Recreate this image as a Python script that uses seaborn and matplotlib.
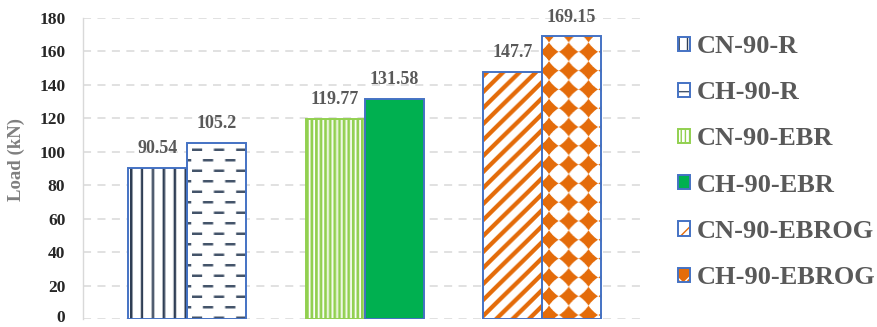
import numpy as np
import pandas as pd
import matplotlib
matplotlib.use("Agg")
import matplotlib.pyplot as plt
from matplotlib.patches import Patch
from matplotlib.transforms import ScaledTranslation
import seaborn as sns

# ---- data -------------------------------------------------------------
specimens = ["CN-90-R", "CH-90-R", "CN-90-EBR", "CH-90-EBR", "CN-90-EBROG", "CH-90-EBROG"]
groups = ["R", "R", "EBR", "EBR", "EBROG", "EBROG"]
sides = ["CN", "CH", "CN", "CH", "CN", "CH"]
loads = [90.54, 105.2, 119.77, 131.58, 147.7, 169.15]
y_ticks = [0, 20, 40, 60, 80, 100, 120, 140, 160, 180]

# ---- colours ----------------------------------------------------------
BLUE = "#4472C4"
NAVY = "#2F3E55"
SLATE = "#44546A"
LIME = "#92D050"
GREEN = "#00B050"
ORANGE = "#E46C0A"
TEXT = "#595959"

# fill style of each specimen: (texture, ink colour, edge colour)
styles = {
    "CN-90-R": ("vlines", NAVY, BLUE),
    "CH-90-R": ("dashes", SLATE, BLUE),
    "CN-90-EBR": ("fine", LIME, LIME),
    "CH-90-EBR": ("solid", GREEN, BLUE),
    "CN-90-EBROG": ("diag", ORANGE, BLUE),
    "CH-90-EBROG": ("diamond", ORANGE, BLUE),
}

sns.set_style("white")
plt.rcParams["font.family"] = ["Liberation Serif", "DejaVu Serif"]
plt.rcParams["lines.scale_dashes"] = False

W, H = 877, 327
fig = plt.figure(figsize=(W / 100, H / 100), dpi=100)
ax = fig.add_axes([83 / W, 1 - 319 / H, (642 - 83) / W, (319 - 18) / H])

df = pd.DataFrame({"specimen": specimens, "group": groups, "side": sides, "load": loads})
sns.barplot(data=df, x="group", y="load", hue="side",
            order=["R", "EBR", "EBROG"], hue_order=["CN", "CH"],
            dodge=True, width=0.665, gap=0, palette=["white", "white"],
            saturation=1, errorbar=None, legend=False, ax=ax)

ax.set_xlim(-0.586, 2.563)
ax.set_ylim(0, 180)


def texture(kind, ink, w, h, ss=4):
    """RGBA pattern fill of w x h pixels, anti-aliased by supersampling."""
    ys, xs = np.mgrid[0:h * ss, 0:w * ss]
    x = (xs + 0.5) / ss
    yu = (h * ss - ys - 0.5) / ss  # measured upward from the bar base
    if kind == "vlines":
        mask = ((x - 2.0) % 10.7) < 2.4
    elif kind == "dashes":
        row = np.floor(yu / 10.5)
        inrow = (yu % 10.5) < 2.6
        shift = (row % 2) * 10.8
        mask = inrow & (((x + shift - 5.0) % 21.6) < 10.0)
    elif kind == "fine":
        mask = (x % 4.5) < 2.7
    elif kind == "diag":
        mask = ((yu - x) % 16.0) < 6.0
    elif kind == "diamond":
        px, py = 19.3, 18.8
        dx = ((x - 7.0 + px / 2) % px) - px / 2
        dy = ((yu - 4.0 + py / 2) % py) - py / 2
        mask = (np.abs(dx) ** 0.85 + np.abs(dy) ** 0.85) < 9.6 ** 0.85
    else:
        mask = np.zeros_like(x, dtype=bool)
    cov = mask.astype(float).reshape(h, ss, w, ss).mean(axis=(1, 3))[..., None]
    ink_rgb = np.array(matplotlib.colors.to_rgb(ink))
    rgb = (1 - cov) * np.ones(3) + cov * ink_rgb
    return np.dstack([rgb, np.ones((h, w))])


bars = sorted(ax.patches, key=lambda p: p.get_x())
for bar, name, value in zip(bars, specimens, loads):
    kind, ink, edge = styles[name]
    x0, bw, bh = bar.get_x(), bar.get_width(), bar.get_height()
    bar.set_edgecolor(edge)
    bar.set_linewidth(1.4)
    bar.set_zorder(3)
    if kind == "solid":
        bar.set_facecolor(ink)
    else:
        bar.set_facecolor("none")
        (p0x, p0y), (p1x, p1y) = ax.transData.transform([(x0, 0), (x0 + bw, bh)])
        wpx, hpx = max(int(round(p1x - p0x)), 1), max(int(round(p1y - p0y)), 1)
        img = texture(kind, ink, wpx, hpx)
        im = ax.imshow(img, extent=(x0, x0 + bw, 0, bh), origin="upper",
                       aspect="auto", interpolation="antialiased", zorder=2)
        im.set_clip_path(bar)
    ax.annotate(f"{value}", xy=(x0 + bw / 2, bh), xytext=(0, 10.5),
                textcoords="offset points", ha="center", va="baseline",
                fontsize=13, fontweight="bold", color=TEXT, annotation_clip=False)

ax.set_xlim(-0.586, 2.563)
ax.set_ylim(0, 180)

# ---- axes styling -----------------------------------------------------
ax.set_axisbelow(True)
ax.yaxis.grid(True, color="#D9D9D9", linewidth=1.1, linestyle=(0, (5.8, 4.6)))
ax.xaxis.grid(False)
for side in ("top", "right", "bottom"):
    ax.spines[side].set_visible(False)
ax.spines["left"].set_color("#D9D9D9")
ax.spines["left"].set_linewidth(1.0)

ax.set_xticks([])
ax.set_xlabel("")
ax.set_yticks(y_ticks)
ax.set_yticklabels([str(t) for t in y_ticks])
ax.tick_params(axis="y", length=0, pad=12.7, labelsize=12.5, labelcolor="#262626")
for lbl in ax.get_yticklabels():
    lbl.set_fontweight("bold")
# keep the bottom "0" label inside the canvas
zero_label = ax.yaxis.get_major_ticks()[0].label1
zero_label.set_transform(zero_label.get_transform()
                         + ScaledTranslation(0, 2.2 / 72, fig.dpi_scale_trans))

ax.set_ylabel("Load (kN)", fontsize=13.5, fontweight="bold", color="#7F7F7F")
ax.yaxis.set_label_coords(-0.104, 0.53)

# ---- legend -----------------------------------------------------------
legend_hatch = {
    "CN-90-R": ("white", NAVY, "||"),
    "CH-90-R": ("white", SLATE, "-"),
    "CN-90-EBR": ("white", LIME, "||||"),
    "CH-90-EBR": (GREEN, GREEN, None),
    "CN-90-EBROG": ("white", ORANGE, "//"),
    "CH-90-EBROG": (ORANGE, "white", "x"),
}
handles = []
for name in specimens:
    fc, hc, hatch = legend_hatch[name]
    edge = styles[name][2]
    back = Patch(facecolor=fc, edgecolor=hc, hatch=hatch, linewidth=0)
    frame = Patch(facecolor="none", edgecolor=edge, linewidth=1.4)
    handles.append((back, frame))

fig.legend(handles, specimens, loc="upper left",
           bbox_to_anchor=(678 / W, 1 - 35 / H),
           frameon=False, prop={"size": 19, "weight": "bold"},
           labelcolor=TEXT, handlelength=0.45, handleheight=0.45,
           handletextpad=0.25, labelspacing=0.88, borderpad=0, borderaxespad=0)

fig.savefig("out.png", dpi=100)
